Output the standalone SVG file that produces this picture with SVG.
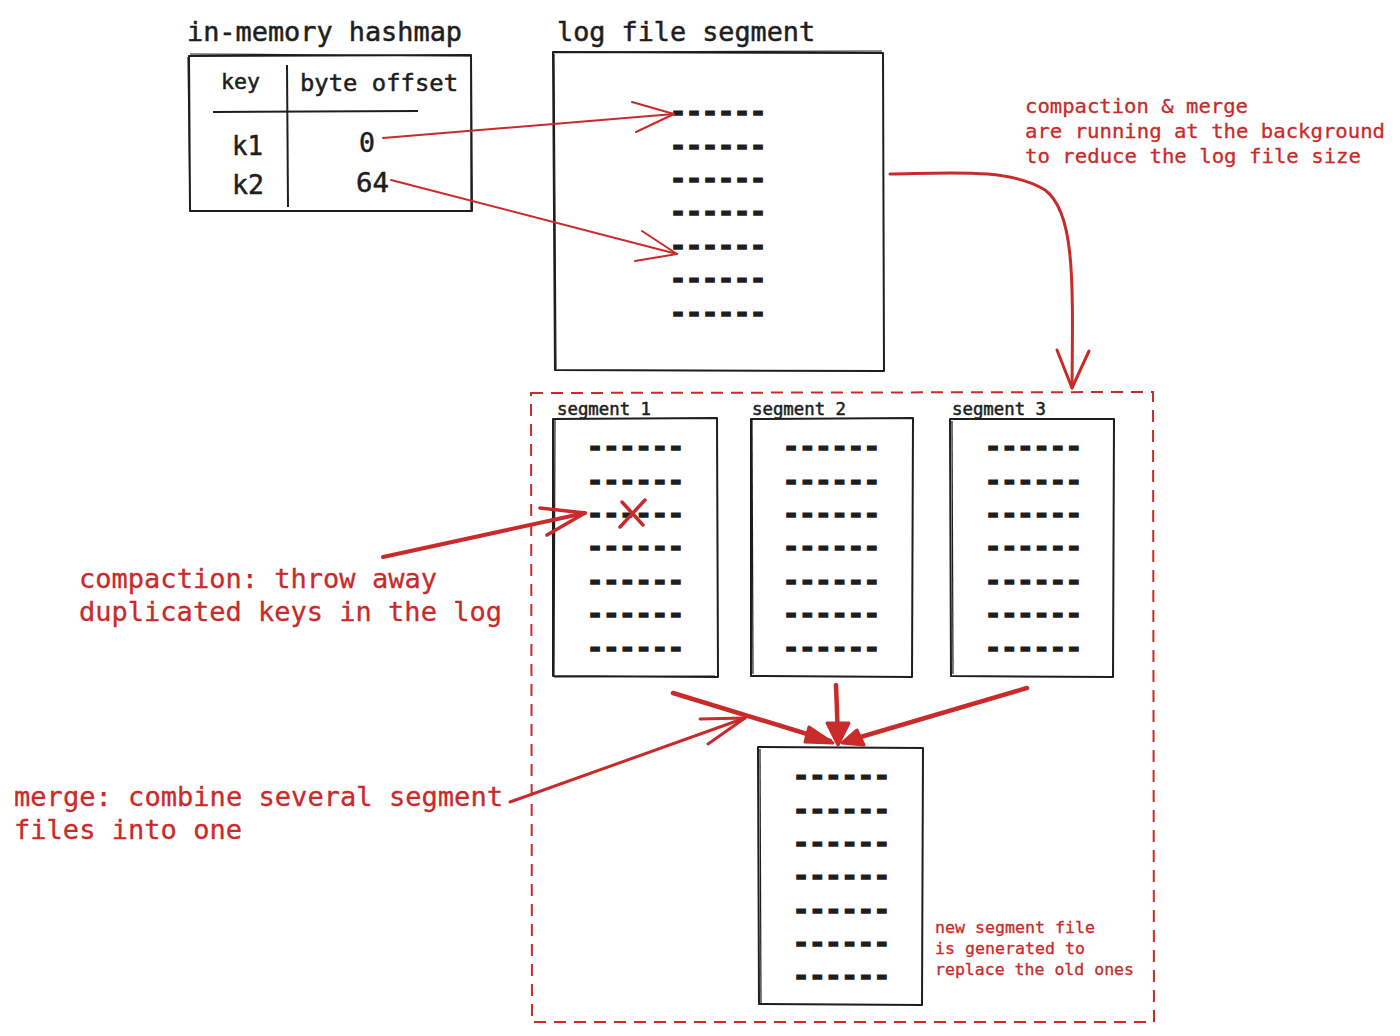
<svg xmlns="http://www.w3.org/2000/svg" width="1400" height="1036" viewBox="0 0 1400 1036">
<style>
.t{font-family:"DejaVu Sans Mono","Liberation Mono",monospace;fill:#1e1e1e;stroke:#1e1e1e;stroke-width:0.5}
.r{font-family:"DejaVu Sans Mono","Liberation Mono",monospace;fill:#c92a2a;stroke:#c92a2a;stroke-width:0.3}
.d{font-family:"DejaVu Sans Mono","Liberation Mono",monospace;fill:#1e1e1e;font-size:26px;font-weight:bold;stroke:#1e1e1e;stroke-width:1.5}
.box{fill:none;stroke:#1e1e1e;stroke-width:2;stroke-linejoin:round}
.box2{fill:none;stroke:#1e1e1e;stroke-width:1.2}
.ra{fill:none;stroke:#c92a2a;stroke-linecap:round;stroke-linejoin:round}
</style>
<rect width="1400" height="1036" fill="#ffffff"/>

<g id="hashmap">
  <text class="t" x="187" y="41" font-size="26" textLength="275" lengthAdjust="spacingAndGlyphs">in-memory hashmap</text>
  <path class="box" d="M189 56 L471 55 L472 211 L190 211 Z"/>
  <path class="box2" d="M190 54 L470 56 M188 57 L190 210 M471 56 L471 212"/>
  <path class="box" d="M287 65 L288 207"/>
  <path class="box" d="M213 112 L418 111"/>
  <text class="t" x="221" y="89" font-size="21" textLength="39" lengthAdjust="spacingAndGlyphs">key</text>
  <text class="t" x="300" y="91" font-size="23" textLength="158" lengthAdjust="spacingAndGlyphs">byte offset</text>
  <text class="t" x="232" y="155" font-size="27" textLength="31" lengthAdjust="spacingAndGlyphs">k1</text>
  <text class="t" x="359" y="152" font-size="27" textLength="16" lengthAdjust="spacingAndGlyphs">0</text>
  <text class="t" x="232" y="194" font-size="27" textLength="32" lengthAdjust="spacingAndGlyphs">k2</text>
  <text class="t" x="356" y="192" font-size="27" textLength="33" lengthAdjust="spacingAndGlyphs">64</text>
</g>

<g id="log-file-segment">
  <text class="t" x="557" y="41" font-size="26" textLength="258" lengthAdjust="spacingAndGlyphs">log file segment</text>
  <path class="box" d="M553 52 L883 53 L884 371 L555 370 Z"/>
  <path class="box2" d="M554 54 L556 369 M555 52 L882 51"/>
  <text class="d" x="670" y="121" textLength="96" lengthAdjust="spacingAndGlyphs">------</text>
  <text class="d" x="670" y="155" textLength="96" lengthAdjust="spacingAndGlyphs">------</text>
  <text class="d" x="670" y="188" textLength="96" lengthAdjust="spacingAndGlyphs">------</text>
  <text class="d" x="670" y="221" textLength="96" lengthAdjust="spacingAndGlyphs">------</text>
  <text class="d" x="670" y="255" textLength="96" lengthAdjust="spacingAndGlyphs">------</text>
  <text class="d" x="670" y="288" textLength="96" lengthAdjust="spacingAndGlyphs">------</text>
  <text class="d" x="670" y="322" textLength="96" lengthAdjust="spacingAndGlyphs">------</text>
</g>

<g id="note-background">
  <text class="r" x="1025" y="113" font-size="20" textLength="223" lengthAdjust="spacingAndGlyphs">compaction &amp; merge</text>
  <text class="r" x="1025" y="138" font-size="20" textLength="360" lengthAdjust="spacingAndGlyphs">are running at the background</text>
  <text class="r" x="1025" y="163" font-size="20" textLength="336" lengthAdjust="spacingAndGlyphs">to reduce the log file size</text>
</g>

<g id="compaction-group">
  <path d="M531 393 L1153 392 L1154 1022 L532 1022 Z" fill="none" stroke="#c92a2a" stroke-width="2" stroke-dasharray="12 8"/>
</g>

<g id="segment-1">
  <text class="t" x="557" y="415" font-size="17" textLength="94" lengthAdjust="spacingAndGlyphs">segment 1</text>
  <path class="box" d="M553 419 L717 418 L718 677 L553 676 Z"/>
  <path class="box2" d="M555 420 L554 675 M554 677 L715 676"/>
  <text class="d" x="587" y="456" textLength="97" lengthAdjust="spacingAndGlyphs">------</text>
  <text class="d" x="587" y="490" textLength="97" lengthAdjust="spacingAndGlyphs">------</text>
  <text class="d" x="587" y="523" textLength="97" lengthAdjust="spacingAndGlyphs">------</text>
  <text class="d" x="587" y="556" textLength="97" lengthAdjust="spacingAndGlyphs">------</text>
  <text class="d" x="587" y="590" textLength="97" lengthAdjust="spacingAndGlyphs">------</text>
  <text class="d" x="587" y="623" textLength="97" lengthAdjust="spacingAndGlyphs">------</text>
  <text class="d" x="587" y="657" textLength="97" lengthAdjust="spacingAndGlyphs">------</text>
  <path class="ra" stroke-width="3.5" d="M622 502 L643 525 M645 500 L620 527"/>
</g>

<g id="segment-2">
  <text class="t" x="752" y="415" font-size="17" textLength="94" lengthAdjust="spacingAndGlyphs">segment 2</text>
  <path class="box" d="M751 419 L913 418 L912 677 L751 676 Z"/>
  <path class="box2" d="M752 420 L753 674"/>
  <text class="d" x="783" y="456" textLength="97" lengthAdjust="spacingAndGlyphs">------</text>
  <text class="d" x="783" y="490" textLength="97" lengthAdjust="spacingAndGlyphs">------</text>
  <text class="d" x="783" y="523" textLength="97" lengthAdjust="spacingAndGlyphs">------</text>
  <text class="d" x="783" y="556" textLength="97" lengthAdjust="spacingAndGlyphs">------</text>
  <text class="d" x="783" y="590" textLength="97" lengthAdjust="spacingAndGlyphs">------</text>
  <text class="d" x="783" y="623" textLength="97" lengthAdjust="spacingAndGlyphs">------</text>
  <text class="d" x="783" y="657" textLength="97" lengthAdjust="spacingAndGlyphs">------</text>
</g>

<g id="segment-3">
  <text class="t" x="952" y="415" font-size="17" textLength="94" lengthAdjust="spacingAndGlyphs">segment 3</text>
  <path class="box" d="M950 419 L1114 419 L1113 677 L951 676 Z"/>
  <path class="box2" d="M952 421 L953 674"/>
  <text class="d" x="985" y="456" textLength="97" lengthAdjust="spacingAndGlyphs">------</text>
  <text class="d" x="985" y="490" textLength="97" lengthAdjust="spacingAndGlyphs">------</text>
  <text class="d" x="985" y="523" textLength="97" lengthAdjust="spacingAndGlyphs">------</text>
  <text class="d" x="985" y="556" textLength="97" lengthAdjust="spacingAndGlyphs">------</text>
  <text class="d" x="985" y="590" textLength="97" lengthAdjust="spacingAndGlyphs">------</text>
  <text class="d" x="985" y="623" textLength="97" lengthAdjust="spacingAndGlyphs">------</text>
  <text class="d" x="985" y="657" textLength="97" lengthAdjust="spacingAndGlyphs">------</text>
</g>

<g id="merged-segment">
  <path class="box" d="M758 747 L923 748 L922 1005 L759 1004 Z"/>
  <path class="box2" d="M760 749 L761 1003"/>
  <text class="d" x="793" y="785" textLength="97" lengthAdjust="spacingAndGlyphs">------</text>
  <text class="d" x="793" y="819" textLength="97" lengthAdjust="spacingAndGlyphs">------</text>
  <text class="d" x="793" y="852" textLength="97" lengthAdjust="spacingAndGlyphs">------</text>
  <text class="d" x="793" y="885" textLength="97" lengthAdjust="spacingAndGlyphs">------</text>
  <text class="d" x="793" y="919" textLength="97" lengthAdjust="spacingAndGlyphs">------</text>
  <text class="d" x="793" y="952" textLength="97" lengthAdjust="spacingAndGlyphs">------</text>
  <text class="d" x="793" y="985" textLength="97" lengthAdjust="spacingAndGlyphs">------</text>
</g>

<g id="note-new-segment">
  <text class="r" x="935" y="933" font-size="16" textLength="160" lengthAdjust="spacingAndGlyphs">new segment file</text>
  <text class="r" x="935" y="954" font-size="16" textLength="150" lengthAdjust="spacingAndGlyphs">is generated to</text>
  <text class="r" x="935" y="975" font-size="16" textLength="199" lengthAdjust="spacingAndGlyphs">replace the old ones</text>
</g>

<g id="note-compaction">
  <text class="r" x="79" y="588" font-size="26" textLength="358" lengthAdjust="spacingAndGlyphs">compaction: throw away</text>
  <text class="r" x="79" y="621" font-size="26" textLength="423" lengthAdjust="spacingAndGlyphs">duplicated keys in the log</text>
</g>

<g id="note-merge">
  <text class="r" x="14" y="806" font-size="26" textLength="489" lengthAdjust="spacingAndGlyphs">merge: combine several segment</text>
  <text class="r" x="14" y="839" font-size="26" textLength="228" lengthAdjust="spacingAndGlyphs">files into one</text>
</g>

<g id="connectors">
  <path class="ra" stroke-width="2" d="M383 138 L674 114"/>
  <path class="ra" stroke-width="2" d="M632 102 L674 114 L636 132"/>
  <path class="ra" stroke-width="2" d="M391 180 L677 254"/>
  <path class="ra" stroke-width="2" d="M642 231 L677 254 L635 261"/>
  <path class="ra" stroke-width="3" d="M890 174 C 950 173, 1010 168, 1045 190 C 1075 212, 1073 280, 1072 388"/>
  <path class="ra" stroke-width="3" d="M1057 350 L1072 388 L1089 351"/>
  <path class="ra" stroke-width="4" d="M383 557 L585 513"/>
  <path class="ra" stroke-width="3.5" d="M540 508 L585 513 L547 535"/>
  <path class="ra" stroke-width="3" d="M510 802 L745 718"/>
  <path class="ra" stroke-width="3" d="M700 719 L745 718 L708 744"/>
  <path class="ra" stroke-width="4.5" d="M673 693 L830 741"/>
  <path d="M809 727 L833 743 L805 742 Z" fill="#c92a2a" stroke="#c92a2a" stroke-width="3" stroke-linejoin="round"/>
  <path class="ra" stroke-width="4.5" d="M836 685 L838 738"/>
  <path d="M827 723 L838 745 L849 723 Z" fill="#c92a2a" stroke="#c92a2a" stroke-width="3" stroke-linejoin="round"/>
  <path class="ra" stroke-width="4.5" d="M1027 688 L847 741"/>
  <path d="M857 730 L842 743 L864 745 Z" fill="#c92a2a" stroke="#c92a2a" stroke-width="3" stroke-linejoin="round"/>
</g>
</svg>
